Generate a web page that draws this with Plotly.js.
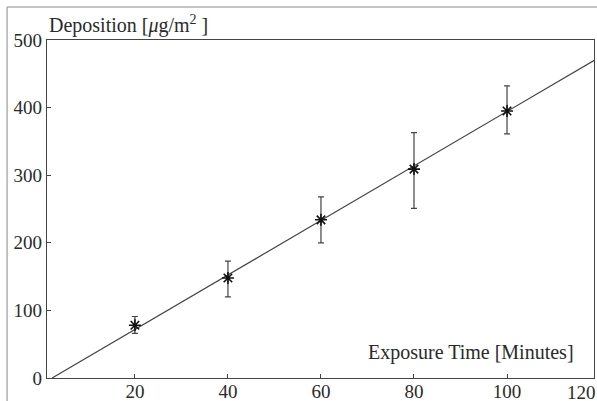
<!DOCTYPE html>
<html>
<head>
<meta charset="utf-8">
<script src="https://cdn.plot.ly/plotly-3.0.1.min.js"></script>
<style>html,body{margin:0;padding:0;background:#fff;}#chart{width:597px;height:401px;}</style>
</head>
<body>
<div id="chart"></div>
<script>
// Measured data
var exposureTime = [20, 40, 60, 80, 100];
var deposition = [78, 148, 234, 309, 395];
var errPlus = [13, 25, 34, 54, 37];
var errMinus = [12, 28, 34, 58, 34];

// Fitted line endpoints
var fitX = [2.2, 120];
var fitY = [0, 475];

var xTickVals = [20, 40, 60, 80, 100];
var xTickText = ['20', '40', '60', '80', '100'];
var yTickVals = [0, 100, 200, 300, 400, 500];
var extraXTickText = '120';

var xRange = [1.1, 118.7];
var yRange = [0, 500];

var fontFam = '"Liberation Serif", "Times New Roman", serif';
var ink = '#2a2a2a';

var traces = [
  {
    x: fitX, y: fitY, mode: 'lines', type: 'scatter',
    line: {color: '#444', width: 1.2}, hoverinfo: 'skip', showlegend: false
  },
  {
    x: exposureTime, y: deposition, mode: 'markers', type: 'scatter',
    marker: {symbol: 'asterisk-open', size: 10, color: '#111', line: {color: '#111', width: 1.6}},
    error_y: {type: 'data', symmetric: false, array: errPlus, arrayminus: errMinus,
              color: '#444', thickness: 1.2, width: 3},
    showlegend: false
  }
];

var layout = {
  width: 597, height: 401,
  margin: {l: 47, r: 3, t: 40, b: 23},
  paper_bgcolor: '#fff', plot_bgcolor: '#fff',
  showlegend: false,
  font: {family: fontFam, color: ink, size: 19},
  xaxis: {
    range: xRange, tickvals: xTickVals, ticktext: xTickText,
    ticks: 'inside', ticklen: 4, tickcolor: '#444', tickwidth: 1,
    ticklabelstandoff: -4,
    showline: true, linecolor: '#444', linewidth: 1.3, mirror: true,
    showgrid: false, zeroline: false,
    tickfont: {family: fontFam, size: 19, color: ink}
  },
  yaxis: {
    range: yRange, tickvals: yTickVals,
    ticks: 'inside', ticklen: 4, tickcolor: '#444', tickwidth: 1,
    showline: true, linecolor: '#444', linewidth: 1.3, mirror: true,
    showgrid: false, zeroline: false,
    tickfont: {family: fontFam, size: 19, color: ink}
  },
  shapes: [
    {type: 'rect', xref: 'paper', yref: 'paper', x0: -0.073, x1: 1.05, y0: -0.12, y1: 1.0976,
     line: {color: '#888', width: 1}, fillcolor: 'rgba(0,0,0,0)', layer: 'below'}
  ],
  annotations: [
    {xref: 'paper', yref: 'paper', x: 0, y: 1.003, xanchor: 'left', yanchor: 'bottom',
     text: 'Deposition [<i>μ</i>g/m<sup>2</sup> ]', showarrow: false,
     font: {family: fontFam, size: 20, color: ink}},
    {xref: 'paper', yref: 'paper', x: 0.967, y: 0.035, xanchor: 'right', yanchor: 'bottom',
     text: 'Exposure Time [Minutes]', showarrow: false,
     font: {family: fontFam, size: 20, color: ink}},
    {xref: 'paper', yref: 'paper', x: 0.947, y: 0, xanchor: 'left', yanchor: 'top', yshift: -2,
     text: extraXTickText, showarrow: false,
     font: {family: fontFam, size: 19, color: ink}}
  ]
};

Plotly.newPlot('chart', traces, layout, {displayModeBar: false, staticPlot: true});
</script>
</body>
</html>
